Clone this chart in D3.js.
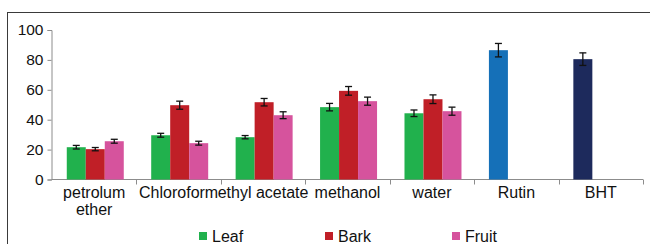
<!DOCTYPE html>
<html><head><meta charset="utf-8">
<script src="https://cdn.jsdelivr.net/npm/d3@7"></script>
<style>
html,body{margin:0;padding:0;background:#fff;}
svg{display:block;font-family:"Liberation Sans",Arial,sans-serif;}
</style></head>
<body><svg id="c" width="650" height="244"></svg>
<script>
const categories = ["petrolum ether","Chloroform","ethyl acetate","methanol","water","Rutin","BHT"];
const seriesNames = ["Leaf","Bark","Fruit"];
const leaf  = [21.6, 29.6, 28.3, 48.4, 44.3, 86.5, 80.5];
const bark  = [20.3, 49.7, 51.7, 59.3, 53.7, null, null];
const fruit = [25.6, 24.3, 43.0, 52.4, 45.7, null, null];
const leafErr  = [1.2, 1.3, 1.1, 2.5, 2.2, 4.5, 4.2];
const barkErr  = [1.1, 2.7, 2.5, 2.9, 2.9, null, null];
const fruitErr = [1.3, 1.3, 2.3, 2.7, 2.7, null, null];
const seriesColors = ["#21b14d","#c01f27","#d6539d"];
const pointColors = {"Rutin":"#1570b8","BHT":"#1d2a5c"};
const yTicks = [0,20,40,60,80,100];

const svg = d3.select("#c");
// frame
svg.append("rect").attr("x",7.5).attr("y",12.5).attr("width",700).attr("height",300)
  .attr("fill","none").attr("stroke","#3a3a3a").attr("stroke-width",1);

const x0 = d3.scaleBand().domain(categories).range([52,643]).paddingInner(0).paddingOuter(0);
const bw = x0.bandwidth();
const x1 = d3.scaleBand().domain(seriesNames).range([bw*0.175, bw*0.85]).padding(0);
const y = d3.scaleLinear().domain([0,100]).range([179.5,30]);

const data = [leaf,bark,fruit];
const errs = [leafErr,barkErr,fruitErr];

// y axis
const ya = svg.append("g").attr("transform","translate(51.5,0)")
  .call(d3.axisLeft(y).tickValues(yTicks).tickSize(4).tickPadding(4));
ya.select(".domain").attr("stroke","#8c8c8c");
ya.selectAll(".tick line").attr("stroke","#8c8c8c");
ya.selectAll(".tick text").attr("font-size","15.5px").attr("fill","#111")
  .attr("font-family","Liberation Sans, Arial, sans-serif");

// x axis
const xa = svg.append("g").attr("transform","translate(0,179.5)");
xa.append("line").attr("x1",51.5).attr("x2",643).attr("y1",0).attr("y2",0).attr("stroke","#8c8c8c");
const edges = categories.map(c=>x0(c)+bw).concat([x0(categories[0])]);
xa.selectAll(".tk").data(edges.slice(0,-1)).enter().append("line")
  .attr("x1",d=>Math.round(d)+0.5).attr("x2",d=>Math.round(d)+0.5).attr("y1",0).attr("y2",5).attr("stroke","#8c8c8c");

// labels
const lbl = svg.append("g").attr("font-size","16px").attr("fill","#111").attr("text-anchor","middle");
categories.forEach(c=>{
  const cx = x0(c)+bw/2;
  const parts = c==="petrolum ether" ? ["petrolum","ether"] : [c];
  parts.forEach((p,i)=>{
    lbl.append("text").attr("x",cx).attr("y",198+i*17).text(p);
  });
});

// bars
seriesNames.forEach((s,si)=>{
  const g = svg.append("g");
  categories.forEach((c,ci)=>{
    const v = data[si][ci];
    if(v==null) return;
    const col = (si===0 && pointColors[c]) ? pointColors[c] : seriesColors[si];
    const bx = x0(c)+x1(s);
    g.append("rect").attr("x",bx).attr("y",y(v)).attr("width",x1.bandwidth())
      .attr("height",y(0)-y(v)).attr("fill",col);
  });
});
// error bars
seriesNames.forEach((s,si)=>{
  const g = svg.append("g").attr("stroke","#111").attr("stroke-width",1.3);
  categories.forEach((c,ci)=>{
    const v = data[si][ci], e = errs[si][ci];
    if(v==null||e==null) return;
    const cx = x0(c)+x1(s)+x1.bandwidth()/2;
    g.append("line").attr("x1",cx).attr("x2",cx).attr("y1",y(v+e)).attr("y2",y(v-e));
    g.append("line").attr("x1",cx-3.5).attr("x2",cx+3.5).attr("y1",y(v+e)).attr("y2",y(v+e));
    g.append("line").attr("x1",cx-3.5).attr("x2",cx+3.5).attr("y1",y(v-e)).attr("y2",y(v-e));
  });
});

// legend
const legX = [199, 325, 452];
const leg = svg.append("g");
seriesNames.forEach((s,i)=>{
  leg.append("rect").attr("x",legX[i]).attr("y",232).attr("width",8).attr("height",8).attr("fill",seriesColors[i]);
  leg.append("text").attr("x",legX[i]+13).attr("y",241.5).attr("font-size","16px").attr("fill","#111").text(s);
});
</script></body></html>
